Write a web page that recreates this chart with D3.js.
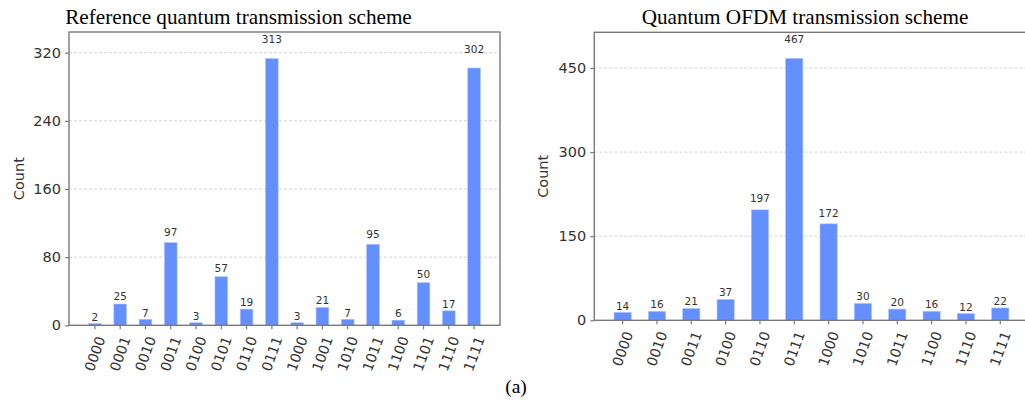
<!DOCTYPE html>
<html><head><meta charset="utf-8">
<script src="https://cdn.jsdelivr.net/npm/d3@7"></script>
<style>body{margin:0;background:#fff}svg{display:block}</style>
</head><body>
<svg id="chart" width="1025" height="404"></svg>
<script>
const refStates = ["0000","0001","0010","0011","0100","0101","0110","0111","1000","1001","1010","1011","1100","1101","1110","1111"];
const refCounts = [2,25,7,97,3,57,19,313,3,21,7,95,6,50,17,302];
const refTicks = [0,80,160,240,320];
const ofdmStates = ["0000","0010","0011","0100","0110","0111","1000","1010","1011","1100","1110","1111"];
const ofdmCounts = [14,16,21,37,197,467,172,30,20,16,12,22];
const ofdmTicks = [0,150,300,450];
const titles = ["Reference quantum transmission scheme","Quantum OFDM transmission scheme"];

const svg = d3.select("#chart");
const BAR = "#648fff", AX = "#7a7a7a", TXT = "#333";

function panel(cfg){
  const {x0,x1,y0,y1,states,counts,ticks,title,titleX,ylabX} = cfg;
  const n = states.length;
  const x = d3.scaleBand().domain(states).range([x0,x1]).paddingInner(0.5).paddingOuter(0.05*(n-0.5));
  const y = d3.scaleLinear().domain([0, d3.max(counts)*1.1]).range([y1,y0]);
  const g = svg.append("g");
  g.selectAll(".grid").data(ticks.filter(t=>t>0)).join("line")
    .attr("x1",x0).attr("x2",x1).attr("y1",d=>y(d)).attr("y2",d=>y(d))
    .attr("stroke","#c8c8c8").attr("stroke-width",0.8).attr("stroke-dasharray","3,2");
  g.selectAll(".bar").data(counts).join("rect")
    .attr("x",(d,i)=>x(states[i])).attr("width",x.bandwidth())
    .attr("y",d=>y(d)).attr("height",d=>y1-y(d))
    .attr("fill",BAR).attr("stroke","#a9c0ff").attr("stroke-width",0.6);
  g.selectAll(".val").data(counts).join("text")
    .attr("x",(d,i)=>x(states[i])+x.bandwidth()/2).attr("y",d=>y(d*1.05)-2.5)
    .attr("text-anchor","middle").attr("font-family","DejaVu Sans").attr("font-size",10.5)
    .attr("fill",TXT).text(d=>d);
  g.append("rect").attr("x",x0).attr("y",y0).attr("width",x1-x0).attr("height",y1-y0)
    .attr("fill","none").attr("stroke",AX).attr("stroke-width",1.4);
  const ya = g.append("g").attr("transform",`translate(${x0},0)`)
    .call(d3.axisLeft(y).tickValues(ticks).tickSize(4).tickPadding(4));
  ya.select(".domain").remove();
  ya.selectAll("line").attr("stroke",AX).attr("stroke-width",1.2);
  ya.selectAll("text").attr("font-family","DejaVu Sans").attr("font-size",14.5).attr("fill",TXT);
  const xa = g.append("g").attr("transform",`translate(0,${y1})`)
    .call(d3.axisBottom(x).tickSize(4).tickPadding(0));
  xa.select(".domain").remove();
  xa.selectAll("line").attr("stroke",AX).attr("stroke-width",1.2);
  xa.selectAll("text").attr("font-family","DejaVu Sans").attr("font-size",14).attr("fill",TXT)
    .attr("text-anchor","middle").attr("dy","0.35em").attr("y",null)
    .attr("transform","translate(0,28.5) rotate(-70)");
  svg.append("text").attr("transform",`translate(${ylabX},${(y0+y1)/2}) rotate(-90)`)
    .attr("text-anchor","middle").attr("font-family","DejaVu Sans").attr("font-size",14.5)
    .attr("fill",TXT).text("Count");
  svg.append("text").attr("x",titleX).attr("y",24).attr("text-anchor","middle")
    .attr("font-family","Liberation Serif").attr("font-size",21.2).attr("fill","#000").text(title);
}

panel({x0:69,x1:500,y0:32,y1:325.3,states:refStates,counts:refCounts,ticks:refTicks,title:titles[0],titleX:238.5,ylabX:23.5});
panel({x0:594.3,x1:1028.6,y0:32.3,y1:320.3,states:ofdmStates,counts:ofdmCounts,ticks:ofdmTicks,title:titles[1],titleX:805,ylabX:547.5});
svg.append("text").attr("x",516).attr("y",393).attr("text-anchor","middle")
  .attr("font-family","Liberation Serif").attr("font-size",19.5).attr("fill","#000").text("(a)");
</script>
</body></html>
